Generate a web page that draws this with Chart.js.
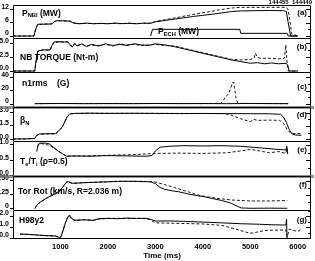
<!DOCTYPE html>
<html><head><meta charset="utf-8">
<script src="https://cdn.jsdelivr.net/npm/chart.js@4/dist/chart.umd.min.js"></script>
<style>
html,body{margin:0;padding:0;background:#fff;}
#wrap{position:relative;width:315px;height:261px;overflow:hidden;background:#fff;}
.p{position:absolute;left:0;width:315px;}
.p canvas{display:block;}
</style></head><body><div id="wrap"></div>
<script>
// ---------- data (time in ms) ----------
const xTicks = [1000, 2000, 3000, 4000, 5000, 6000];
const yTicksA = [0, 6, 12];
const yTicksB = [0, 2.5, 5];
const yTicksC = [0, 20, 40];
const yTicksD = [0, 1.5, 3];
const yTicksE = [0, 0.5, 1];
const yTicksF = [0, 125, 250];
const yTicksG = [0, 1, 2];

// (a) P_NBI (MW)
const tNbi455 = [0,440,480,520,820, 870,920,1000,1100,1200, 1280,1400,1550,1700,1850, 2000,2150,2300,2450,2600, 2750,2900,3000,3200,3400, 3600,3800,4000,4200,4400, 4600,4800,5100,5400,5700, 5760,5800,5850,6000];
const pNbi455 = [0,0,3.2,5.3,5.4, 6.5,6.9,6.8,6.9,6.6, 5.8,5.5,5.8,5.5,5.7, 5.5,5.8,5.6,5.7,5.5, 5.8,5.7,6.4,7.0,7.6, 8.2,8.8,9.3,9.8,10.4, 11.0,11.3,11.4,11.5,11.4, 11.0,6.0,0,0];
const tNbi449 = [0,440,480,520,820, 870,920,1000,1100,1200, 1280,1400,1550,1700,1850, 2000,2150,2300,2450,2600, 2750,2900,3000,3150,3300, 3500,3700,3900,4100,4300, 4500,4650,4800,5100,5400, 5750,5790,5830,5870,6000];
const pNbi449 = [0,0,3.0,5.2,5.5, 6.4,6.8,6.9,6.7,6.8, 5.9,5.6,5.7,5.6,5.6, 5.6,5.7,5.5,5.8,5.6, 5.7,5.8,6.5,7.1,7.7, 8.5,9.3,10.1,10.8,11.6, 12.3,12.7,12.9,12.9,12.9, 12.9,12.4,8.0,1.0,0];
// P_ECH (MW)
const tEch = [2900,2940,4780,4800,5780,5800,6000];
const pEch = [0,3.0,3.0,1.2,1.2,0,0];

// (b) NB torque (N-m)
const tTq455 = [0,460,480,520,650, 780,820,860,950,1050, 1150,1200,1250,1300,1350, 1450,1550,1650,1800,1950, 2100,2250,2400,2550,2700, 2850,3000,3200,3400,3600, 3800,4000,4200,4400,4600, 4800,5000,5150,5300,5450, 5600,5760,5790,5820,6000];
const tq455  = [0,0,1.5,3.6,3.8, 3.8,4.6,5.2,5.3,5.2, 5.3,4.8,4.3,5.0,4.5, 4.9,4.4,4.8,4.5,4.9, 4.6,4.8,4.6,4.9,4.7, 4.6,4.9,4.7,4.4,4.0, 3.6,3.2,2.8,2.4,2.0, 1.7,1.4,1.5,1.3,1.45, 1.3,1.4,1.0,0,0];
const tTq449 = [0,460,480,520,650, 780,820,860,950,1050, 1150,1200,1250,1300,1350, 1450,1550,1650,1800,1950, 2100,2250,2400,2550,2700, 2850,3000,3200,3400,3600, 3800,4000,4200,4400,4600, 4650,4800,5000,5080,5110, 5140,5200,5400,5600,5720, 5750,5770,5800,6000];
const tq449  = [0,0,1.4,3.5,3.9, 3.7,4.5,5.1,5.2,5.3, 5.2,4.6,4.5,4.9,4.6, 4.8,4.5,4.7,4.6,4.8, 4.5,4.9,4.7,4.8,4.6, 4.7,4.8,4.6,4.5,4.1, 3.7,3.3,2.9,2.5,2.1, 2.1,2.0,2.1,2.3,3.2, 2.6,2.3,2.3,2.2,2.3, 4.7,2.0,0,0];

// (c) n1rms (G)
const tN1_455 = [460,1000,1500,2000,2500,3000,3500,4000,4500,5000,5500,5800];
const n1_455  = [0.5,0.8,0.5,0.7,0.5,0.8,0.6,0.7,0.5,0.8,0.6,0.5];
const tN1_449 = [460,1000,2000,3000,4000, 4380,4430,4480,4530,4580, 4620,4645,4670,4700,4740, 5000,5500,5800];
const n1_449  = [0.5,0.7,0.6,0.7,0.6, 1.0,5,11,14,22, 31,33,24,8,1, 0.7,0.6,0.5];

// (d) beta_N
const tBn455 = [0,300,460,500,560, 700,900,950,1000,1050, 1100,1150,1200,1300,1600, 2000,2500,3000,3500,4000, 4500,5000,5400,5640,5700, 5760,5820,5880,5950,6080];
const bn455  = [0.03,0.05,0.1,0.45,0.6, 0.62,0.64,0.9,1.15,1.5, 2.1,2.6,2.85,2.9,2.93, 2.9,2.92,2.9,2.88,2.9, 2.88,2.87,2.86,2.8,2.5, 1.9,1.1,0.6,0.48,0.45];
const tBn449 = [0,300,460,500,560, 700,900,950,1000,1050, 1100,1150,1200,1300,1600, 2000,2500,3000,3500,4000, 4450,4600,4800,5000,5080, 5150,5400,5620,5700,5780, 5850,5950,6080];
const bn449  = [0.02,0.05,0.1,0.42,0.58, 0.6,0.62,0.88,1.12,1.45, 2.05,2.55,2.83,2.9,2.91, 2.92,2.9,2.91,2.9,2.89, 2.88,2.7,2.3,1.98,2.24, 2.12,2.15,2.12,1.8,1.1, 0.68,0.65,0.66];

// (e) Te/Ti (rho=0.5)
const tTe455 = [500,530,560,700,760, 850,950,1050,1130,1300, 1600,2000,2400,2800,2930, 3000,3100,3300,3600,4000, 4400,4800,5200,5500,5750, 5770,5790];
const te455  = [0.78,1.0,1.05,1.05,1.03, 0.92,0.8,0.7,0.63,0.64, 0.63,0.65,0.64,0.63,0.65, 0.8,0.92,0.95,0.97,0.96, 0.97,0.95,0.9,0.86,0.83, 0.95,0.7];
const tTe449 = [520,560,650,720,800, 900,1000,1100,1200,1500, 2000,2500,3000,3500,4000, 4500,4800,5000,5200,5400, 5600,5750,5770,5790];
const te449  = [0.95,1.05,1.02,1.0,0.95, 0.85,0.75,0.66,0.63,0.64, 0.66,0.68,0.72,0.73,0.72, 0.74,0.8,0.85,0.8,0.74, 0.78,0.72,0.9,0.75];

// (f) Toroidal rotation (km/s, R=2.036 m)
const tRot455 = [460,520,600,700,800, 900,1000,1060,1120,1160, 1250,1400,1600,1800,2000, 2200,2400,2600,2800,2900, 3000,3100,3200,3350,3500, 3700,3900,4030,4200,4400, 4600,4700,4810,5000,5400, 5780];
const rot455  = [0,40,65,92,115, 135,165,200,235,242, 228,230,234,238,240, 244,246,244,242,240, 225,190,172,160,150, 130,115,106,90,72, 47,25,5,2,3, 2];
const tRot449 = [460,520,600,700,800, 900,1000,1060,1120,1160, 1250,1400,1600,1800,2000, 2200,2400,2600,2800,2980, 3200,3400,3560,3700,3890, 4100,4300,4600,5000,5400, 5780];
const rot449  = [0,38,63,90,113, 133,163,198,232,240, 226,232,236,236,242, 246,244,246,244,241, 215,190,167,150,122, 105,92,77,68,68, 72];

// (g) H98y2
const tH455 = [150,300,500,700,900, 980,1010,1050,1100,1150, 1190,1230,1300,1500,1700, 1800,2000,2200,2400,2600, 2800,2900,3000,3300,3600, 4000,4400,4800,5200,5500, 5750,5765,5775];
const h455  = [0.36,0.34,0.27,0.22,0.18, 0.05,0.1,0.6,1.3,1.85, 2.1,1.8,1.62,1.65,1.6, 1.75,1.8,1.75,1.82,1.78, 1.8,1.7,1.55,1.55,1.52, 1.45,1.38,1.3,1.25,1.2, 1.18,1.7,0];
const tH449 = [150,300,500,700,900, 980,1010,1050,1100,1150, 1190,1230,1300,1500,1700, 1800,2000,2200,2400,2600, 2800,2900,3000,3500,4000, 4400,4700,5000,5100,5300, 5500,5750,5780,5820,5900, 6000,6090];
const h449  = [0.34,0.33,0.28,0.21,0.17, 0.04,0.12,0.65,1.35,1.9, 2.05,1.75,1.6,1.68,1.63, 1.72,1.78,1.8,1.76,1.8, 1.76,1.65,1.38,1.33,1.28, 1.15,0.8,0.43,0.5,0.68, 0.72,0.73,0.1,0.8,0.7, 0.6,0.85];

const shotLabel = '144455  144449';
const xTitle = 'Time (ms)';

// ---------- rendering ----------
const FONT = '"Liberation Sans", Arial, Helvetica, sans-serif';
const X_MIN = 0, X_MAX = 6280;
const wrap = document.getElementById('wrap');

function pts(t, v) { return t.map((x, i) => ({x: x, y: v[i]})); }

function drawRich(ctx, parts, x, y, size) {
  let cx = x;
  parts.forEach(p => {
    const sub = p[1] === 1;
    const s = sub ? size * 0.68 : size;
    ctx.font = 'bold ' + s + 'px ' + FONT;
    ctx.fillText(p[0], cx, sub ? y + size * 0.3 : y);
    cx += ctx.measureText(p[0]).width;
  });
}

const deco = {
  id: 'deco',
  afterDraw(chart, args, o) {
    const {ctx, chartArea: a} = chart;
    const ys = chart.scales.y;
    ctx.save();
    if (o.band) {
      ctx.fillStyle = 'rgba(110,110,110,0.75)';
      ctx.fillRect(0, a.top - 1, a.right + 3, 3);
    }
    ctx.strokeStyle = '#000';
    ctx.lineWidth = 1;
    ctx.beginPath();
    ctx.moveTo(a.left + 0.5, a.bottom);
    ctx.lineTo(a.left + 0.5, a.top + 0.5);
    ctx.lineTo(a.right - 0.5, a.top + 0.5);
    ctx.lineTo(a.right - 0.5, a.bottom);
    if (o.last) { ctx.moveTo(a.left, a.bottom - 0.5); ctx.lineTo(a.right, a.bottom - 0.5); }
    // right-hand inward ticks
    const st = o.minor;
    for (let v = Math.ceil(ys.min / st) * st; v <= ys.max + 1e-9; v += st) {
      const py = Math.round(ys.getPixelForValue(v)) + 0.5;
      if (py <= a.top + 1 || py >= a.bottom - 1) continue;
      const len = o.ticks.some(t => Math.abs(t - v) < 1e-9) ? 5 : 3;
      ctx.moveTo(a.right - len, py); ctx.lineTo(a.right, py);
    }
    ctx.stroke();
    ctx.fillStyle = '#000';
    ctx.textBaseline = 'middle';
    ctx.textAlign = 'left';
    o.labels.forEach(l => drawRich(ctx, l.parts, l.x, a.top + l.y, 8.5));
    ctx.textAlign = 'right';
    ctx.font = 'bold 8px ' + FONT;
    ctx.fillText(o.letter, a.right - 4, a.top + o.letterY);
    if (o.shots) {
      ctx.font = 'bold 6px ' + FONT;
      ctx.fillText(shotLabel, a.right + 1, 2);
    }
    ctx.restore();
  }
};

const panels = [
  {top:5, h:33, padTop:5, min:-0.9, max:13.96, ticks:yTicksA, minor:3, dec:0, letter:'(a)', letterY:8, shots:true,
   labels:[{x:22, y:8.3, parts:[['P'],['NBI',1],[' (MW)']]}, {x:158, y:27, parts:[['P'],['ECH',1],[' (MW)']]}],
   series:[[tNbi455,pNbi455,0],[tNbi449,pNbi449,1],[tEch,pEch,0]]},
  {top:38, h:34, min:-0.18, max:5.95, ticks:yTicksB, minor:1.25, dec:1, letter:'(b)', letterY:8.7,
   labels:[{x:20, y:19.5, parts:[['NB TORQUE (Nt-m)']]}],
   series:[[tTq455,tq455,0],[tTq449,tq449,1]]},
  {top:72, h:35, min:-4.5, max:48, ticks:yTicksC, minor:10, dec:0, letter:'(c)', letterY:14.7,
   labels:[{x:22, y:11.3, parts:[['n1rms    (G)']]}],
   series:[[tN1_455,n1_455,0],[tN1_449,n1_449,1]]},
  {top:107, h:34, min:-0.19, max:3.62, ticks:yTicksD, minor:0.75, dec:1, letter:'(d)', letterY:8, band:true,
   labels:[{x:20, y:14, parts:[['\u03B2'],['N',1]]}],
   series:[[tBn455,bn455,0],[tBn449,bn449,1]]},
  {top:141, h:35, min:-0.006, max:1.12, ticks:yTicksE, minor:0.25, dec:1, letter:'(e)', letterY:9,
   labels:[{x:20, y:20.5, parts:[['T'],['e',1],['/T'],['i',1],[' (\u03C1=0.5)']]}],
   series:[[tTe455,te455,0],[tTe449,te449,1]]},
  {top:176, h:34, min:-13.5, max:293, ticks:yTicksF, minor:62.5, dec:0, letter:'(f)', letterY:9, band:true,
   labels:[{x:18, y:15.7, parts:[['Tor Rot (km/s, R=2.036 m)']]}],
   series:[[tRot455,rot455,0],[tRot449,rot449,1]]},
  {top:210, h:29, min:-0.09, max:2.55, ticks:yTicksG, minor:0.5, dec:1, letter:'(g)', letterY:10, last:true,
   labels:[{x:19, y:11, parts:[['H98y2']]}],
   series:[[tH455,h455,0],[tH449,h449,1]]}
];

const AXIS_H = 22;

panels.forEach(p => {
  const padTop = p.padTop != null ? p.padTop : 4;
  const hh = p.h + padTop + (p.last ? AXIS_H : 0);
  const div = document.createElement('div');
  div.className = 'p';
  div.style.top = (p.top - padTop) + 'px';
  div.style.height = hh + 'px';
  const cv = document.createElement('canvas');
  cv.width = 315; cv.height = hh;
  cv.style.width = '315px'; cv.style.height = hh + 'px';
  div.appendChild(cv);
  wrap.appendChild(div);

  const datasets = p.series.map(s => ({
    data: pts(s[0], s[1]),
    borderColor: s[2] ? '#1a1a1a' : '#000',
    borderWidth: 1,
    borderDash: s[2] ? [3, 2] : [],
    pointRadius: 0,
    tension: 0,
    fill: false
  }));

  new Chart(cv, {
    type: 'line',
    data: {datasets},
    plugins: [deco],
    options: {
      responsive: false,
      animation: false,
      events: [],
      layout: {padding: {top: padTop, right: 4, left: 0, bottom: 0}},
      plugins: {
        legend: {display: false}, tooltip: {enabled: false},
        deco: {band: !!p.band, last: !!p.last, minor: p.minor, ticks: p.ticks, labels: p.labels, letter: p.letter, letterY: p.letterY, shots: !!p.shots}
      },
      scales: {
        x: {
          type: 'linear', min: X_MIN, max: X_MAX, display: !!p.last,
          afterBuildTicks: s => { s.ticks = xTicks.map(v => ({value: v})); },
          afterFit: s => { if (p.last) s.height = AXIS_H; s.paddingLeft = 0; s.paddingRight = 0; },
          ticks: {font: {family: FONT, size: 7.5, weight: 'bold'}, color: '#000', padding: 3, maxRotation: 0, autoSkip: false, callback: v => String(v)},
          grid: {display: false, drawTicks: false, tickLength: 0},
          border: {display: false},
          title: {display: true, text: xTitle, font: {family: FONT, size: 8, weight: 'bold'}, color: '#000', padding: 0}
        },
        y: {
          type: 'linear', min: p.min, max: p.max, position: 'left',
          afterBuildTicks: s => { s.ticks = p.ticks.map(v => ({value: v})); },
          afterFit: s => { s.width = 13; s.paddingTop = 0; s.paddingBottom = 0; },
          ticks: {font: {family: FONT, size: 7, weight: 'bold'}, color: '#000', padding: 1, labelOffset: -2.5, autoSkip: false,
                  callback: v => Number(v).toFixed(p.dec)},
          grid: {drawOnChartArea: false, drawTicks: true, tickLength: 3, color: '#000', lineWidth: 1},
          border: {display: false}
        }
      }
    }
  });
});
</script></body></html>
